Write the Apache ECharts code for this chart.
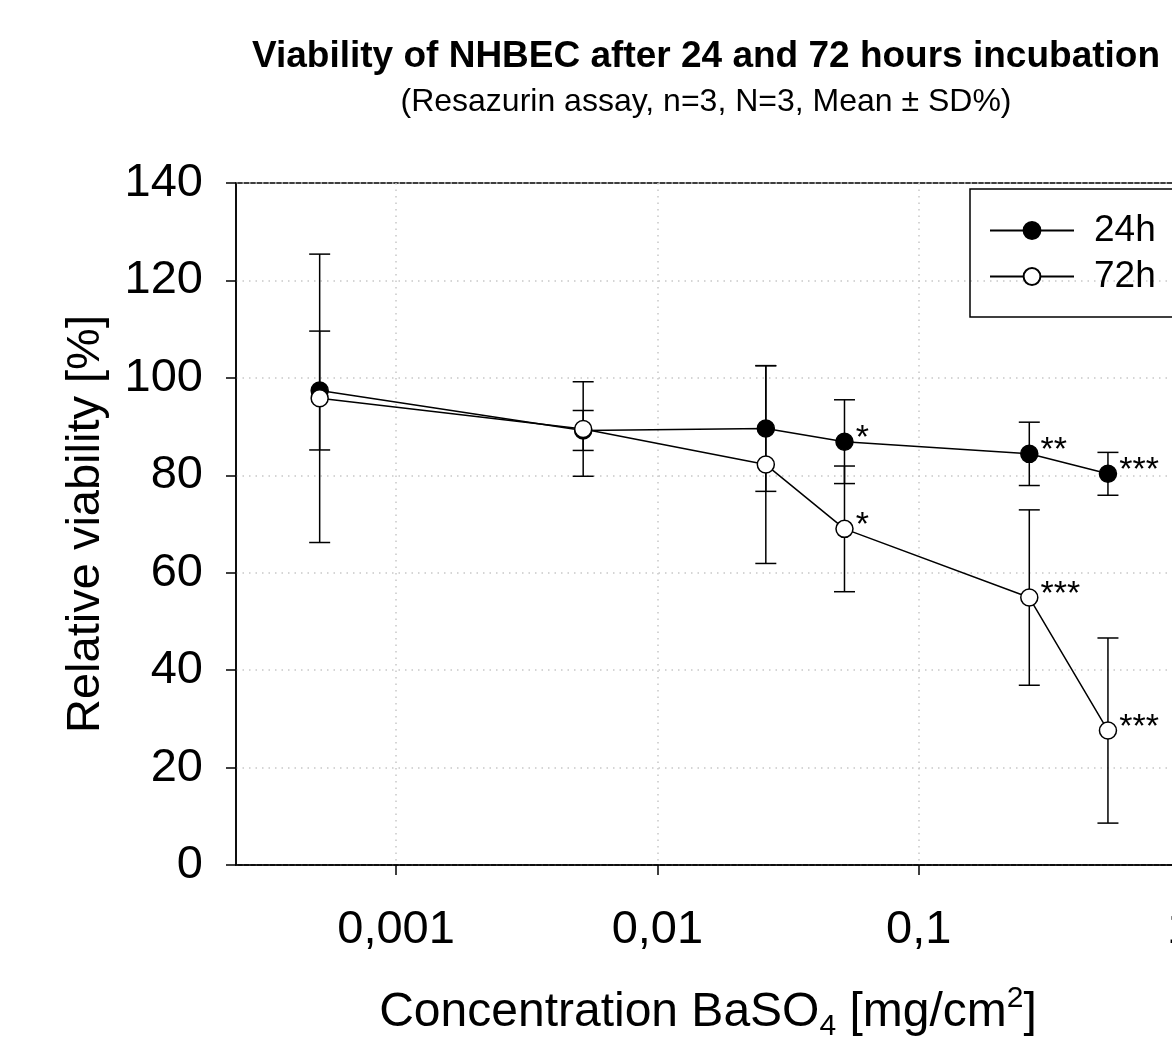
<!DOCTYPE html>
<html>
<head>
<meta charset="utf-8">
<script src="https://cdn.jsdelivr.net/npm/echarts@6/dist/echarts.min.js"></script>
<style>
html, body { margin: 0; padding: 0; overflow: hidden; background: #fff; }
#chart { width: 1412px; height: 1039px; }
</style>
</head>
<body>
<div id="chart"></div>
<script>
// concentrations in mg/cm2
var conc = [0.00051, 0.0052, 0.026, 0.052, 0.265, 0.53];
var mean_24h = [97.4, 89.2, 89.6, 86.9, 84.4, 80.3];
var sd_24h = [12.2, 4.1, 12.9, 8.6, 6.5, 4.4];
var mean_72h = [95.8, 89.5, 82.2, 69.0, 54.9, 27.6];
var sd_72h = [29.6, 9.7, 20.3, 12.9, 18.0, 19.0];
var sig_24h = ['', '', '', '*', '**', '***'];
var sig_72h = ['', '', '', '*', '***', '***'];
var x_ticks = [0.001, 0.01, 0.1, 1];
var y_ticks = [0, 20, 40, 60, 80, 100, 120, 140];

var font = "'Liberation Sans', Arial, sans-serif";

function make_points(means){
	var arr = new Array();
	for(var i = 0; i < conc.length; i++){
		arr[i] = [conc[i], means[i]];
	}
	return arr;
}

function make_bars(means, sds){
	var arr = new Array();
	for(var i = 0; i < conc.length; i++){
		arr[i] = [conc[i], means[i] - sds[i], means[i] + sds[i]];
	}
	return arr;
}

function render_bar(params, api){
	var top = api.coord([api.value(0), api.value(2)]);
	var bottom = api.coord([api.value(0), api.value(1)]);
	var half = 10.5;
	var style = { stroke: '#000', lineWidth: 1.5 };
	return {
		type: 'group',
		children: [
			{ type: 'line', shape: { x1: top[0], y1: top[1], x2: bottom[0], y2: bottom[1] }, style: style },
			{ type: 'line', shape: { x1: top[0] - half, y1: top[1], x2: top[0] + half, y2: top[1] }, style: style },
			{ type: 'line', shape: { x1: bottom[0] - half, y1: bottom[1], x2: bottom[0] + half, y2: bottom[1] }, style: style }
		]
	};
}

function x_label(v){
	var lg = Math.log(v) / Math.LN10;
	if(Math.abs(lg - Math.round(lg)) > 1e-6){
		return '';
	}
	var p = Math.round(lg);
	if(p >= 0){
		return String(Math.pow(10, p));
	}
	return '0,' + new Array(-p).join('0') + '1';
}

var chart = echarts.init(document.getElementById('chart'));
var option = {
	backgroundColor: '#fff',
	animation: false,
	title: [
		{
			text: 'Viability of NHBEC after 24 and 72 hours incubation',
			left: 'center',
			top: 38,
			padding: 0,
			textStyle: { fontFamily: font, fontSize: 37, fontWeight: 'bold', color: '#000' }
		},
		{
			text: '(Resazurin assay, n=3, N=3, Mean \u00b1 SD%)',
			left: 'center',
			top: 86,
			padding: 0,
			textStyle: { fontFamily: font, fontSize: 32, fontWeight: 'normal', color: '#000' }
		}
	],
	legend: {
		orient: 'vertical',
		left: 970,
		top: 189,
		padding: [23, 40, 22, 19],
		borderColor: '#000',
		borderWidth: 1.5,
		itemWidth: 84,
		itemHeight: 21,
		itemGap: 9,
		textStyle: { fontFamily: font, fontSize: 37, lineHeight: 36, color: '#000', padding: [0, 0, 0, 15] },
		data: ['24h', '72h']
	},
	grid: {
		left: 236,
		top: 183,
		right: 232,
		bottom: 174,
		outerBoundsMode: 'none',
		show: true,
		borderColor: '#000',
		borderWidth: 1.5,
		backgroundColor: 'transparent'
	},
	xAxis: {
		type: 'log',
		logBase: 10,
		min: 0.000244,
		max: 1,
		name: '{a|Concentration BaSO}{s|4}{a| [mg/cm}{p|2}{a|]}',
		nameLocation: 'middle',
		nameGap: 119,
		nameTextStyle: {
			rich: {
				a: { fontFamily: font, fontSize: 48, color: '#000' },
				s: { fontFamily: font, fontSize: 30, color: '#000', padding: [28, 0, 0, 0] },
				p: { fontFamily: font, fontSize: 30, color: '#000', padding: [0, 0, 28, 0] }
			}
		},
		axisLine: { lineStyle: { color: '#000', width: 1.5 } },
		axisTick: { show: true, length: 10, customValues: x_ticks, lineStyle: { color: '#000', width: 1.5 } },
		axisLabel: { fontFamily: font, fontSize: 47, color: '#000', margin: 42, customValues: x_ticks, formatter: x_label },
		minorTick: { show: false },
		splitLine: { show: true, lineStyle: { color: '#c8c8c8', width: 1.5, type: [1.5, 5] } }
	},
	yAxis: {
		type: 'value',
		min: y_ticks[0],
		max: y_ticks[y_ticks.length - 1],
		interval: 20,
		name: 'Relative viability [%]',
		nameLocation: 'middle',
		nameGap: 126,
		nameTextStyle: { fontFamily: font, fontSize: 47, color: '#000' },
		axisLine: { show: true, lineStyle: { color: '#000', width: 1.5 } },
		axisTick: { show: true, length: 10, lineStyle: { color: '#000', width: 1.5 } },
		axisLabel: { fontFamily: font, fontSize: 47, color: '#000', margin: 33, padding: [6, 0, 0, 0] },
		splitLine: { show: true, lineStyle: { color: '#c8c8c8', width: 1.5, type: [1.5, 5] } }
	},
	series: [
		{
			name: 'err24',
			type: 'custom',
			renderItem: render_bar,
			encode: { x: 0, y: [1, 2] },
			data: make_bars(mean_24h, sd_24h),
			z: 1,
			silent: true
		},
		{
			name: 'err72',
			type: 'custom',
			renderItem: render_bar,
			encode: { x: 0, y: [1, 2] },
			data: make_bars(mean_72h, sd_72h),
			z: 1,
			silent: true
		},
		{
			name: '24h',
			type: 'line',
			data: make_points(mean_24h),
			symbol: 'circle',
			symbolSize: 17,
			z: 3,
			lineStyle: { color: '#000', width: 1.5 },
			itemStyle: { color: '#000', borderColor: '#000', borderWidth: 1.5 },
			label: {
				show: true,
				position: 'right',
				distance: 2,
				offset: [0, -3],
				fontFamily: font,
				fontSize: 34,
				color: '#000',
				formatter: function(p){ return sig_24h[p.dataIndex]; }
			}
		},
		{
			name: '72h',
			type: 'line',
			data: make_points(mean_72h),
			symbol: 'circle',
			symbolSize: 17,
			z: 4,
			lineStyle: { color: '#000', width: 1.5 },
			itemStyle: { color: '#fff', borderColor: '#000', borderWidth: 1.5 },
			label: {
				show: true,
				position: 'right',
				distance: 2,
				offset: [0, -3],
				fontFamily: font,
				fontSize: 34,
				color: '#000',
				formatter: function(p){ return sig_72h[p.dataIndex]; }
			}
		}
	]
};
chart.setOption(option);
</script>
</body>
</html>
